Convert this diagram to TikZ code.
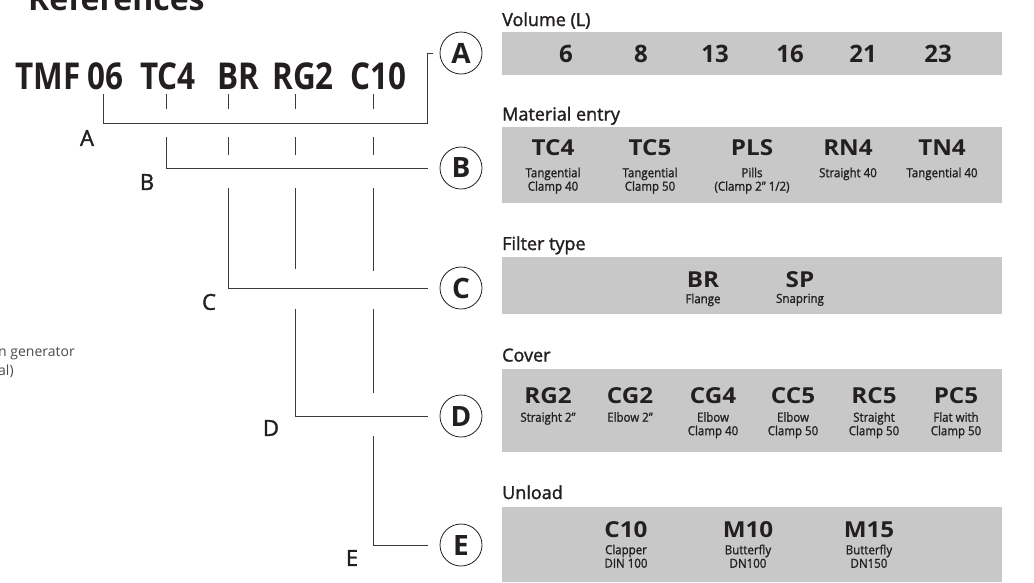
\documentclass[tikz,border=0pt]{standalone}
\usepackage{fontspec}
\setmainfont{Open Sans}
\newfontfamily\condfont[FakeStretch=0.85]{Open Sans}
\newfontfamily\subfont[FakeStretch=0.92, FakeBold=1.2]{Open Sans}
\newfontfamily\semifont[FakeBold=1.6]{Open Sans}
\newfontfamily\widefont[FakeStretch=1.1]{Open Sans}
\usetikzlibrary{positioning}
\definecolor{ink}{HTML}{231F20}
\definecolor{panel}{HTML}{C8C8C8}
\definecolor{wire}{HTML}{3C3C3C}
\definecolor{note}{HTML}{4A4A4A}

\begin{document}
\begin{tikzpicture}[x=1pt, y=-1pt]
    \tikzset{heading/.style = {anchor=base west, inner sep=0, text=ink, font=\semifont\fontsize{18}{20}\selectfont}}
    \tikzset{token/.style = {anchor=base, inner sep=0, text=ink, font=\condfont\bfseries\fontsize{37}{39}\selectfont}}
    \tikzset{volnum/.style = {anchor=base, inner sep=0, text=ink, font=\bfseries\fontsize{24}{26}\selectfont}}
    \tikzset{code/.style = {anchor=base, inner sep=0, text=ink, font=\widefont\bfseries\fontsize{22}{24}\selectfont}}
    \tikzset{sub/.style = {anchor=north, inner sep=0, align=center, text=ink, font=\subfont\fontsize{12.5}{13.5}\selectfont}}
    \tikzset{ref/.style = {circle, draw=ink, line width=0.8pt, minimum size=42pt, inner sep=0, text=ink, font=\bfseries\fontsize{28}{30}\selectfont}}
    \tikzset{letter/.style = {inner sep=0, text=ink, font=\semifont\fontsize{22}{24}\selectfont}}
    \tikzset{link/.style = {draw=wire, line width=0.8pt}}
    \tikzset{box/.style = {fill=panel}}
    \useasboundingbox (0,0) rectangle (1034,582);
    \clip (0,0) rectangle (1034,582);

    % title and cut-off note
    \node[anchor=base west, inner sep=0, text=ink, font=\bfseries\fontsize{32}{34}\selectfont] (title) at (28,10) {References};
    \node[anchor=base west, inner sep=0, align=left, text=note, font=\fontsize{14}{19}\selectfont] (note) at (-2,375) {n generator\\al)};

    % reference code
    \node[token] (tTMF) at (48,89) {TMF};
    \node[token] (t06) at (105,89) {06};
    \node[token] (tTC4) at (168,89) {TC4};
    \node[token] (tBR) at (238,89) {BR};
    \node[token] (tRG2) at (303,89) {RG2};
    \node[token] (tC10) at (378,89) {C10};

    % circled letters
    \node[ref] (rA) at (461,53) {A};
    \node[ref] (rB) at (461,168) {B};
    \node[ref] (rC) at (461,288) {C};
    \node[ref] (rD) at (461,416) {D};
    \node[ref] (rE) at (461,545) {E};

    \node[letter] (lA) at (87,138) {A};
    \node[letter] (lB) at (147,182) {B};
    \node[letter] (lC) at (209,302) {C};
    \node[letter] (lD) at (271,428) {D};
    \node[letter] (lE) at (352,558) {E};

    % leader lines
    \coordinate (k06) at (103,94);
    \coordinate (jA) at (427,123);
    \coordinate (kTC4) at (166,137);
    \coordinate (kBR) at (228,188);
    \coordinate (kRG2) at (295,309);
    \coordinate (kC10) at (373,436);
    \draw[link] (k06) |- (jA) |- ([xshift=-7pt]rA.west);
    \draw[link] (kTC4) |- ([xshift=-12pt]rB.west);
    \draw[link] (kBR) |- ([xshift=-12pt]rC.west);
    \draw[link] (kRG2) |- ([xshift=-12pt]rD.west);
    \draw[link] (kC10) |- ([xshift=-12pt]rE.west);
    \foreach \x in {166,228,295,373}
        \draw[link] (\x,94) -- (\x,109);
    \foreach \x in {228,295,373}
        \draw[link] (\x,137) -- (\x,155);
    \draw[link] (295,188) -- (295,269);
    \draw[link] (373,188) -- (373,271);
    \draw[link] (373,309) -- (373,393);

    % panels
    \fill[box] (502,32) rectangle (1002,75);
    \fill[box] (502,127) rectangle (1002,203);
    \fill[box] (502,257) rectangle (1002,314);
    \fill[box] (502,369) rectangle (1002,452);
    \fill[box] (502,507) rectangle (1002,582);

    \node[heading] (hVol) at (502,26) {Volume (L)};
    \node[heading] (hMat) at (502,120.5) {Material entry};
    \node[heading] (hFil) at (502,250) {Filter type};
    \node[heading] (hCov) at (502,361.5) {Cover};
    \node[heading] (hUnl) at (502,499) {Unload};

    % volume
    \foreach \x/\v in {566/6, 641/8, 715/13, 790/16, 863/21, 938/23}
        \node[volnum] (vol\v) at (\x,62) {\v};

    % material entry
    \foreach \x/\c/\s in {553/TC4/{Tangential\\Clamp 40}, 650/TC5/{Tangential\\Clamp 50},
        752/PLS/{Pills\\(Clamp 2” 1/2)}, 848/RN4/{Straight 40}, 942/TN4/{Tangential 40}} {
        \node[code] (mat\c) at (\x,155.5) {\c};
        \node[sub, below=12pt of mat\c.base] (mat\c-s) {\s};
    }

    % filter type
    \foreach \x/\c/\s in {703/BR/Flange, 800/SP/Snapring} {
        \node[code] (fil\c) at (\x,287) {\c};
        \node[sub, below=6.5pt of fil\c.base] (fil\c-s) {\s};
    }

    % cover
    \foreach \x/\c/\s in {548/RG2/{Straight 2”}, 630/CG2/{Elbow 2”}, 713/CG4/{Elbow\\Clamp 40},
        793/CC5/{Elbow\\Clamp 50}, 874/RC5/{Straight\\Clamp 50}, 956/PC5/{Flat with\\Clamp 50}} {
        \node[code] (cov\c) at (\x,403) {\c};
        \node[sub, below=9pt of cov\c.base] (cov\c-s) {\s};
    }

    % unload
    \foreach \x/\c/\s in {626/C10/{Clapper\\DIN 100}, 748/M10/{Butterfly\\DN100}, 869/M15/{Butterfly\\DN150}} {
        \node[code] (unl\c) at (\x,537) {\c};
        \node[sub, below=7.5pt of unl\c.base] (unl\c-s) {\s};
    }
\end{tikzpicture}
\end{document}
